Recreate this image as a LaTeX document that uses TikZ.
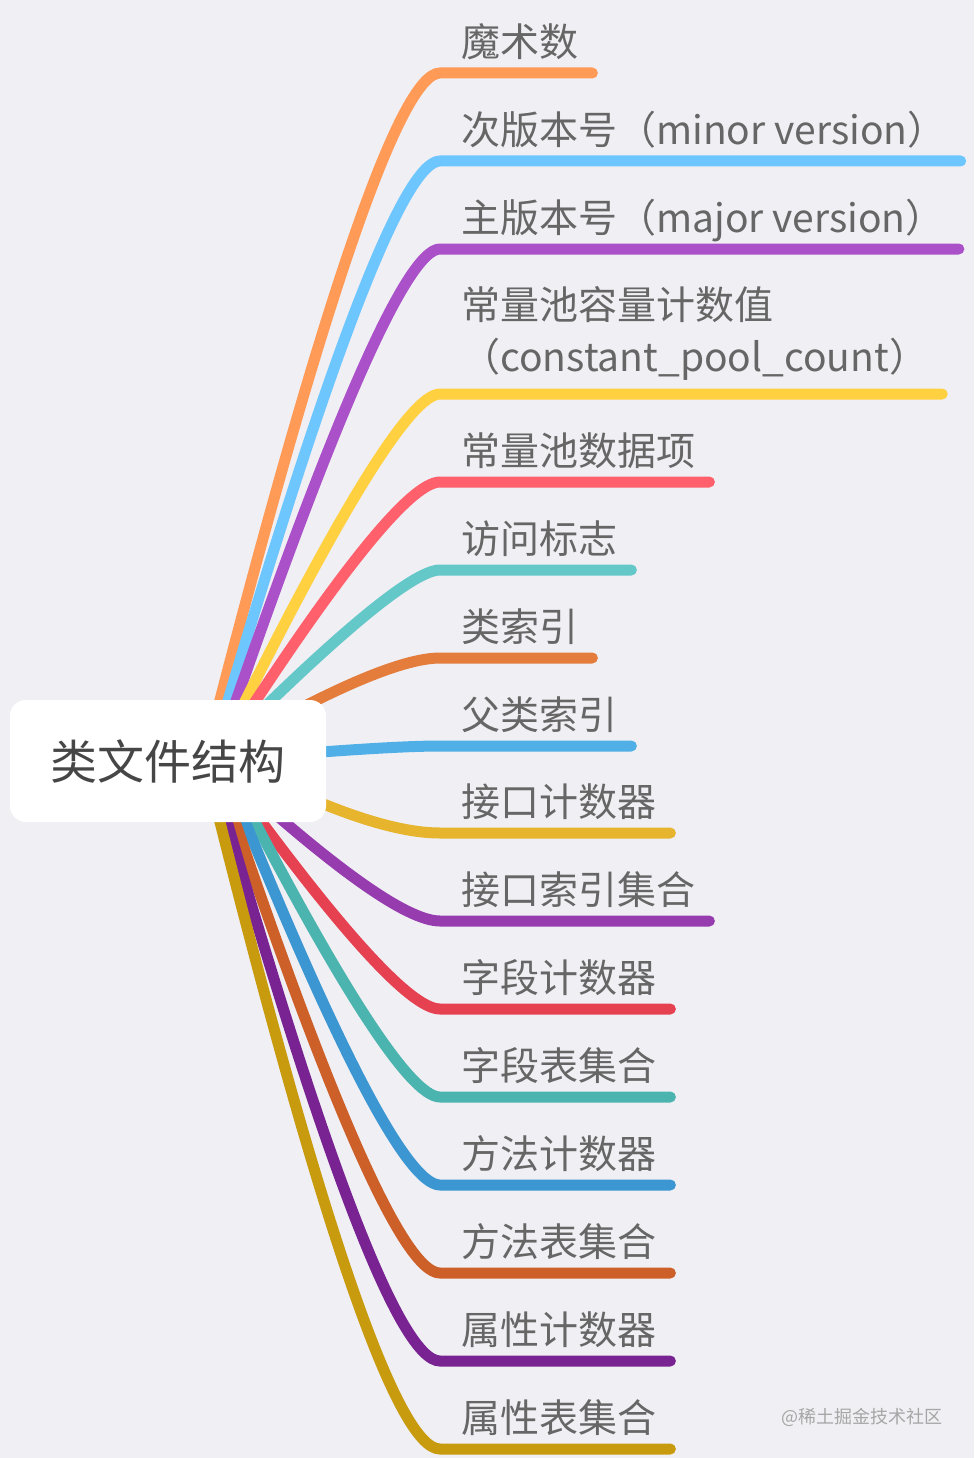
\documentclass[tikz,border=0pt]{standalone}
\usepackage{fontspec}
\setmainfont{Noto Sans CJK SC}
\usepackage{tikz}
\usetikzlibrary{calc}

\definecolor{bgc}{HTML}{F0EFF4}
\definecolor{lblgray}{HTML}{666666}
\definecolor{rootgray}{HTML}{464646}
\definecolor{c1}{HTML}{FF9A57}
\definecolor{c2}{HTML}{6EC6FF}
\definecolor{c3}{HTML}{AA50C8}
\definecolor{c4}{HTML}{FFD040}
\definecolor{c5}{HTML}{FF606C}
\definecolor{c6}{HTML}{64C8C8}
\definecolor{c7}{HTML}{E47D3C}
\definecolor{c8}{HTML}{50AFE6}
\definecolor{c9}{HTML}{E6B42D}
\definecolor{c10}{HTML}{963CAF}
\definecolor{c11}{HTML}{E64150}
\definecolor{c12}{HTML}{4BB4AF}
\definecolor{c13}{HTML}{3C96D2}
\definecolor{c14}{HTML}{CD5F28}
\definecolor{c15}{HTML}{782391}
\definecolor{c16}{HTML}{C89B0F}

\pgfdeclarelayer{bg}
\pgfdeclarelayer{lines}
\pgfsetlayers{bg,lines,main}

\tikzset{root/.style={rectangle, rounded corners=16pt, fill=white, minimum width=316pt, minimum height=122pt, text=rootgray, font=\fontsize{47}{56}\selectfont},
        lbl/.style={anchor=south west, inner xsep=21pt, inner ysep=0pt, text=lblgray, font=\fontsize{39}{52}\selectfont},
        br/.style={line width=11pt, line cap=round},
        wm/.style={anchor=east, inner sep=0pt, text=gray!70, font=\fontsize{18}{20}\selectfont}}

\begin{document}
\begin{tikzpicture}[x=1pt, y=-1pt]
    \begin{pgfonlayer}{bg}
      \fill[bgc] (0,0) rectangle (974,1458);
    \end{pgfonlayer}
    \useasboundingbox (0,0) rectangle (974,1458);

    \node[root] (root) at (168,761) {类文件结构};

    % one branch per item: number / y of underline / start x / bend x / depth / text
    \foreach \i/\y/\sx/\cx/\dep/\txt in {
      1/73/204/380/16/魔术数,
      2/161/210/385/16/次版本号（minor version）,
      3/249/215/390/16/主版本号（major version）,
      4/394/215/395/22/{\begin{tabular}[b]{@{}l@{}}常量池容量计数值\\（constant\_pool\_count）\end{tabular}},
      5/482/216/395/16/常量池数据项,
      6/570/209/400/16/访问标志,
      7/658/204/380/16/类索引,
      8/746/200/380/16/父类索引,
      9/833/234/370/16/接口计数器,
      10/921/217/390/16/接口索引集合,
      11/1009/218/395/16/字段计数器,
      12/1097/224/395/16/字段表集合,
      13/1185/221/390/16/方法计数器,
      14/1273/215/385/16/方法表集合,
      15/1361/210/380/16/属性计数器,
      16/1449/205/375/16/属性表集合} {
      \node[lbl, text depth=\dep pt] (b\i) at (440,\y) {\txt};
      \coordinate (s\i) at (\sx,762);
      \begin{pgfonlayer}{lines}
        \draw[br, draw=c\i] (s\i) .. controls ($(s\i)!2/3!(\cx,\y)$) and ($(b\i.south west)!2/3!(\cx,\y)$) .. (b\i.south west) -- ([xshift=-7pt]b\i.south east);
      \end{pgfonlayer}
    }

    \node[wm] (wm) at (943,1417) {@稀土掘金技术社区};
\end{tikzpicture}
\end{document}
